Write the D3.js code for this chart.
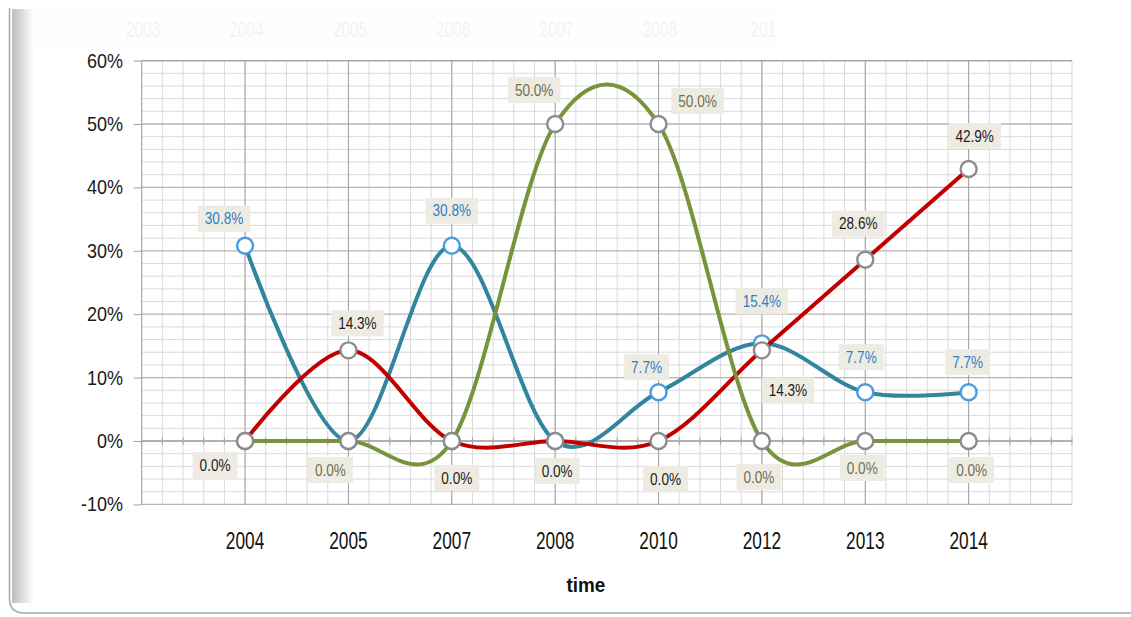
<!DOCTYPE html>
<html>
<head>
<meta charset="utf-8">
<script src="https://cdn.jsdelivr.net/npm/d3@7"></script>
<style>
  html, body { margin: 0; padding: 0; background: #fff; }
  svg { display: block; }
  text { font-family: "Liberation Sans", Arial, sans-serif; }
</style>
</head>
<body>
<svg id="chart" width="1131" height="617"></svg>
<script>
// ---- data ----
const categories = ["2004", "2005", "2007", "2008", "2010", "2012", "2013", "2014"];
const blueValues  = [30.8, 0, 30.8, 0, 7.7, 15.4, 7.7, 7.7];
const redValues   = [0, 14.3, 0, 0, 0, 14.3, 28.6, 42.9];
const greenValues = [0, 0, 0, 50, 50, 0, 0, 0];
const yTicks = [-10, 0, 10, 20, 30, 40, 50, 60];
const headerYears = ["2003", "2004", "2005", "2006", "2007", "2008", "201"];
const xTitle = "time";

// ---- label placement (dx, dy from point; null = hidden) ----
const blueLabelPos  = [[-21,-27], null, [0,-35], null, [-12,-25], [0,-42], [-4,-35], [-1,-30]];
const redLabelPos   = [[-30,24], [9,-27], [5,37], [2,30], [7,38], [26,40], [-7,-36], [6,-33]];
const greenLabelPos = [null, [-18,29], null, [-21,-34], [39,-23], [-3,36], [-3,27], [3,29]];

const series = [
  { values: blueValues,  line: "#31859c", marker: "#4a9be0", text: "#2f7fc4", pos: blueLabelPos },
  { values: redValues,   line: "#c00000", marker: "#8c8c8c", text: "#1e1e1e", pos: redLabelPos },
  { values: greenValues, line: "#77933c", marker: "#8c8c8c", text: "#6f7052", pos: greenLabelPos }
];

const svg = d3.select("#chart");
const plot = { left: 141.7, right: 1072, top: 60.6, bottom: 504.4 };

const x = d3.scalePoint().domain(categories).range([plot.left, plot.right]).padding(1);
const y = d3.scaleLinear().domain([-10, 60]).range([plot.bottom, plot.top]);

// condensed text helper
function ctext(g, str, px, py, size, sx, anchor, fill, weight) {
  return g.append("text")
    .attr("transform", `translate(${px},${py}) scale(${sx},1)`)
    .attr("text-anchor", anchor)
    .attr("font-size", size)
    .attr("font-weight", weight || "normal")
    .attr("fill", fill)
    .text(str);
}

// ---- frame ----
const defs = svg.append("defs");
const grad = defs.append("linearGradient").attr("id", "edge").attr("x1", 0).attr("x2", 1).attr("y1", 0).attr("y2", 0);
grad.append("stop").attr("offset", 0).attr("stop-color", "#bdbdbd");
grad.append("stop").attr("offset", 1).attr("stop-color", "#ffffff");

svg.append("rect").attr("x", 35).attr("y", 9).attr("width", 745).attr("height", 38).attr("fill", "#fefefe");
svg.append("rect").attr("x", 12).attr("y", 9).attr("width", 22).attr("height", 594).attr("fill", "url(#edge)");
svg.append("path")
  .attr("d", "M9.5,8 L9.5,598 Q9.5,613 24,613 L1131,613")
  .attr("fill", "none").attr("stroke", "#a8a8a8").attr("stroke-width", 1.5);

const hdr = svg.append("g");
const hdrX = d3.scaleLinear().domain([0, 1]).range([143, 143 + x.step()]);
headerYears.forEach((t, i) => ctext(hdr, t, hdrX(i), 37, 22, 0.7, "middle", "#f3f3f3"));

// ---- grid ----
const grid = svg.append("g");
const step = x.step();
const minorX = d3.range(plot.left, plot.right + 0.5, step / 5);
const minorY = d3.range(-10, 60.01, 2);

grid.selectAll("line.mx").data(minorX).join("line")
  .attr("x1", d => d).attr("x2", d => d).attr("y1", plot.top).attr("y2", plot.bottom)
  .attr("stroke", "#dadada").attr("stroke-width", 1);
grid.selectAll("line.my").data(minorY).join("line")
  .attr("x1", plot.left).attr("x2", plot.right).attr("y1", d => y(d)).attr("y2", d => y(d))
  .attr("stroke", d => d % 10 === 0 ? "#b4b4b4" : "#dadada").attr("stroke-width", d => d % 10 === 0 ? 1.3 : 1);
grid.selectAll("line.cx").data(categories).join("line")
  .attr("x1", d => x(d)).attr("x2", d => x(d)).attr("y1", plot.top).attr("y2", plot.bottom)
  .attr("stroke", "#a0a0a0").attr("stroke-width", 1);
grid.append("line").attr("x1", plot.left).attr("x2", plot.left).attr("y1", plot.top).attr("y2", plot.bottom)
  .attr("stroke", "#a0a0a0");
grid.append("line").attr("x1", plot.left).attr("x2", plot.right).attr("y1", plot.top).attr("y2", plot.top)
  .attr("stroke", "#a0a0a0").attr("stroke-width", 1.3);
grid.append("line").attr("x1", plot.left).attr("x2", plot.right).attr("y1", y(0)).attr("y2", y(0))
  .attr("stroke", "#a8a8a8").attr("stroke-width", 1.3);
grid.selectAll("line.zt").data(minorX).join("line")
  .attr("x1", d => d).attr("x2", d => d).attr("y1", y(0) - 4).attr("y2", y(0) + 4)
  .attr("stroke", "#a8a8a8");

// ---- y axis ----
const yAxis = svg.append("g").attr("transform", `translate(${plot.left},0)`)
  .call(d3.axisLeft(y).tickValues(yTicks).tickSize(8).tickFormat(() => ""));
yAxis.select(".domain").remove();
yAxis.selectAll(".tick line").attr("stroke", "#a0a0a0");
const yLab = svg.append("g");
yTicks.forEach(t => ctext(yLab, t + "%", 123, y(t) + 7, 20, 0.9, "end", "#1a1a1a"));

// ---- x axis labels ----
const xAxis = svg.append("g").attr("transform", `translate(0,${plot.bottom})`)
  .call(d3.axisBottom(x).tickSize(0).tickFormat(() => ""));
xAxis.select(".domain").remove();
const xLab = svg.append("g");
categories.forEach(c => ctext(xLab, c, x(c), 549, 24, 0.72, "middle", "#111"));
ctext(svg.append("g"), xTitle, x.range()[0] + (x.range()[1] - x.range()[0]) / 2 - 21, 592, 21, 0.9, "middle", "#111", "bold");

// ---- series ----
const lineGen = d3.line()
  .x((d, i) => x(categories[i]))
  .y(d => y(d))
  .curve(d3.curveCardinal.tension(0));

const marks = svg.append("g");
series.forEach(s => {
  marks.append("path").datum(s.values)
    .attr("d", lineGen)
    .attr("fill", "none").attr("stroke", s.line).attr("stroke-width", 4)
    .attr("stroke-linejoin", "round").attr("stroke-linecap", "round");
  marks.append("g").selectAll("circle").data(s.values).join("circle")
    .attr("cx", (d, i) => x(categories[i])).attr("cy", d => y(d)).attr("r", 8)
    .attr("fill", "#fff").attr("stroke", s.marker).attr("stroke-width", 2.4);
});

// ---- data labels ----
const labels = svg.append("g");
series.forEach(s => {
  s.values.forEach((v, i) => {
    const p = s.pos[i];
    if (!p) return;
    const cx = x(categories[i]) + p[0];
    const cy = y(v) + p[1];
    const str = v.toFixed(1) + "%";
    const g = labels.append("g");
    const rect = g.append("rect").attr("fill", "#eeece2");
    const t = ctext(g, str, cx, cy + 5.5, 16, 0.85, "middle", s.text);
    const w = t.node().getComputedTextLength() * 0.85 + 14;
    rect.attr("x", cx - w / 2).attr("y", cy - 13).attr("width", w).attr("height", 26);
  });
});
</script>
</body>
</html>
